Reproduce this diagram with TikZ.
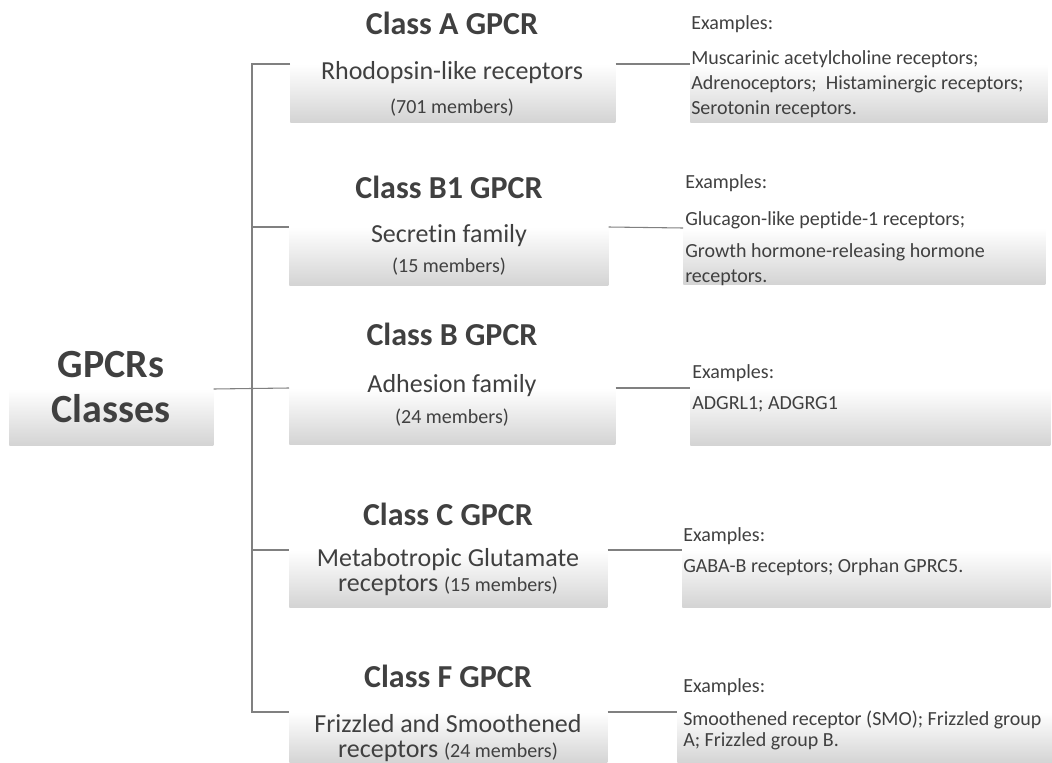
\documentclass[tikz,border=0pt]{standalone}
\usepackage{fontspec}
\setmainfont{Carlito}[Ligatures={NoCommon}]
\usetikzlibrary{positioning,calc}
\definecolor{txt}{HTML}{404040}
\definecolor{ln}{HTML}{808080}

\begin{document}
\begin{tikzpicture}[x=0.75pt,y=-0.75pt,
    line/.style={draw=ln,line width=0.8pt},
    box/.style={rectangle,anchor=north west,inner sep=0pt,top color=white,bottom color=black!17},
    title/.style={anchor=base,inner sep=0pt,text=txt,font=\bfseries\fontsize{24}{28}\selectfont},
    root text/.style={anchor=base,inner sep=0pt,text=txt,font=\bfseries\fontsize{30}{34}\selectfont},
    sub/.style={anchor=base,inner sep=0pt,text=txt,font=\fontsize{19.5}{23}\selectfont},
    mem/.style={anchor=base,inner sep=0pt,text=txt,font=\fontsize{15}{18}\selectfont},
    ex/.style={anchor=base west,inner sep=0pt,text=txt,align=left,font=\fontsize{15}{18.75}\selectfont}]

    \useasboundingbox (0,0) rectangle (1052,763);

    % shaded boxes
    \node[box,minimum width=153pt,minimum height=42pt] (root) at (9,389) {};
    \node[box,minimum width=243.75pt,minimum height=43.5pt] (boxA) at (290,64) {};
    \node[box,minimum width=239.25pt,minimum height=43.5pt] (boxB1) at (289,227) {};
    \node[box,minimum width=244.5pt,minimum height=42pt] (boxB) at (289,388) {};
    \node[box,minimum width=238.5pt,minimum height=42.75pt] (boxC) at (289,550) {};
    \node[box,minimum width=238.5pt,minimum height=38.25pt] (boxF) at (289,712) {};

    \node[box,minimum width=267.75pt,minimum height=43.5pt] (exA) at (690,64) {};
    \node[box,minimum width=271.5pt,minimum height=42pt] (exB1) at (683,228) {};
    \node[box,minimum width=270pt,minimum height=42.75pt] (exB) at (690,388) {};
    \node[box,minimum width=276pt,minimum height=42.75pt] (exC) at (682,550) {};
    \node[box,minimum width=281.25pt,minimum height=38.25pt] (exF) at (677,712) {};

    % tree lines
    \coordinate (top) at (252,64);
    \coordinate (bot) at (252,712);
    \draw[line] (boxA.north west) -- (top) -- (bot) -- (boxF.north west);
    \draw[line] (top |- boxB1.north west) -- (boxB1.north west);
    \draw[line] (root.north east) -- (boxB.north west);
    \draw[line] (top |- boxC.north west) -- (boxC.north west);

    \draw[line] (boxA.north east) -- (exA.north west);
    \draw[line] (boxB1.north east) -- (exB1.north west);
    \draw[line] (boxB.north east) -- (exB.north west);
    \draw[line] (boxC.north east) -- (exC.north west);
    \draw[line] (boxF.north east) -- (exF.north west);

    % root
    \node[root text] (gpcrs) at (111,377) {GPCRs};
    \node[root text] (classes) at (111,422) {Classes};

    % classes
    \node[title] (tA) at (452,35) {Class A GPCR};
    \node[sub] (sA) at (452,80) {Rhodopsin-like receptors};
    \node[mem] (mA) at (452,114) {(701 members)};

    \node[title] (tB1) at (449,198) {Class B1 GPCR};
    \node[sub] (sB1) at (449,242) {Secretin family};
    \node[mem] (mB1) at (449,272) {(15 members)};

    \node[title] (tB) at (452,345) {Class B GPCR};
    \node[sub] (sB) at (452,392) {Adhesion family};
    \node[mem] (mB) at (452,423) {(24 members)};

    \node[title] (tC) at (448,525) {Class C GPCR};
    \node[sub] (sC) at (448,566) {Metabotropic Glutamate};
    \node[sub] (sC2) at (448,591) {receptors {\fontsize{15}{18}\selectfont(15 members)}};

    \node[title] (tF) at (448,687) {Class F GPCR};
    \node[sub] (sF) at (448,732) {Frizzled and Smoothened};
    \node[sub] (sF2) at (448,757) {receptors {\fontsize{15}{18}\selectfont(24 members)}};

    % examples (multi-line nodes sit on their last baseline)
    \node[ex] (eA) at (691,30) {Examples:};
    \node[ex] (eA2) at (691,115) {Muscarinic acetylcholine receptors;\\
      Adrenoceptors;\ \ Histaminergic receptors;\\
      Serotonin receptors.};

    \node[ex] (eB1) at (685,188) {Examples:};
    \node[ex] (eB12) at (685,282) {Glucagon-like peptide-1 receptors;\\[5.25pt]
      Growth hormone-releasing hormone\\
      receptors.};

    \node[ex] (eB) at (692,378) {Examples:};
    \node[ex] (eB2) at (692,409) {ADGRL1; ADGRG1};

    \node[ex] (eC) at (683,541) {Examples:};
    \node[ex] (eC2) at (683,572) {GABA-B receptors; Orphan GPRC5.};

    \node[ex] (eF) at (683,692) {Examples:};
    \node[ex] (eF2) at (683,746) {Smoothened receptor (SMO); Frizzled group\\[-3pt]
      A; Frizzled group B.};
  \end{tikzpicture}
\end{document}
